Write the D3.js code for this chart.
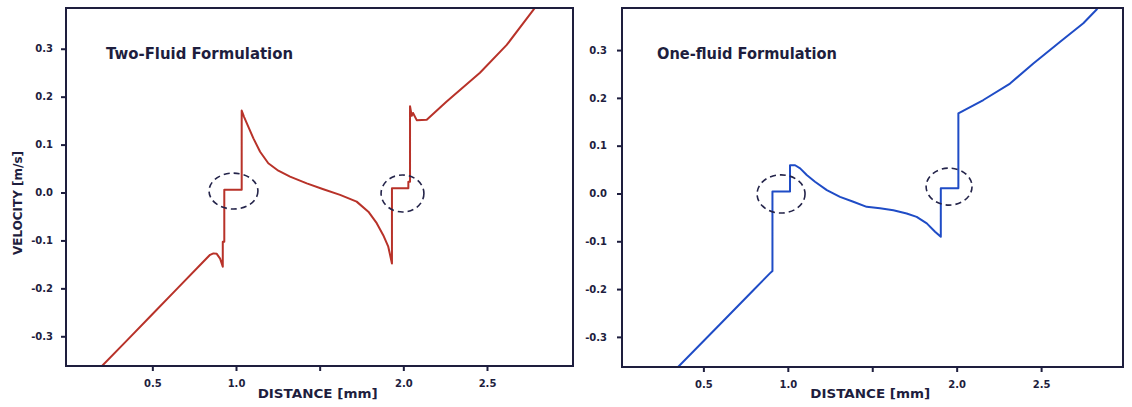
<!DOCTYPE html>
<html>
<head>
<meta charset="utf-8">
<script src="https://cdn.jsdelivr.net/npm/d3@7/dist/d3.min.js"></script>
<style>
  body { margin: 0; background: #ffffff; }
  svg { display: block; }
</style>
</head>
<body>
<svg id="chart" width="1132" height="407"></svg>
<script>
// ---- Data -----------------------------------------------------------------
// Velocity profile, two-fluid formulation: distance [mm] and velocity [m/s]
const twoFluidX = [0.199, 0.35, 0.50, 0.65, 0.80, 0.845, 0.865, 0.885, 0.905, 0.921, 0.921, 0.930, 0.930,
  1.034, 1.034, 1.048, 1.074, 1.104, 1.144, 1.193, 1.253, 1.323, 1.423, 1.522, 1.622, 1.721, 1.791,
  1.841, 1.880, 1.910, 1.932, 1.932, 2.030, 2.030, 2.040, 2.040, 2.050, 2.058, 2.080, 2.140, 2.259,
  2.458, 2.618, 2.777, 2.79];
const twoFluidV = [-0.362, -0.308, -0.254, -0.200, -0.146, -0.130, -0.127, -0.128, -0.138, -0.155, -0.103, -0.103, 0.006,
  0.006, 0.171, 0.158, 0.137, 0.113, 0.085, 0.061, 0.0455, 0.033, 0.019, 0.0067, -0.005, -0.019, -0.040,
  -0.064, -0.089, -0.113, -0.148, 0.009, 0.009, 0.0225, 0.0225, 0.180, 0.160, 0.166, 0.151, 0.152, 0.190,
  0.250, 0.308, 0.381, 0.387];

// Velocity profile, one-fluid formulation
const oneFluidX = [0.350, 0.60, 0.80, 0.895, 0.909, 0.909, 1.013, 1.013, 1.043, 1.073, 1.112, 1.161, 1.231,
  1.309, 1.388, 1.467, 1.546, 1.625, 1.704, 1.763, 1.823, 1.872, 1.906, 1.906, 2.010, 2.010, 2.158,
  2.316, 2.454, 2.613, 2.750, 2.829, 2.84];
const oneFluidV = [-0.363, -0.273, -0.201, -0.1666, -0.162, 0.004, 0.004, 0.059, 0.059, 0.0525, 0.0385, 0.0245, 0.007,
  -0.007, -0.0174, -0.028, -0.031, -0.035, -0.042, -0.049, -0.0626, -0.080, -0.0906, 0.0107, 0.0107, 0.1676, 0.1955,
  0.230, 0.272, 0.3175, 0.356, 0.385, 0.39];

// Dashed ellipses marking the interface plateaus (centre and radii in data units)
const twoFluidRingX = [0.985, 1.995];
const twoFluidRingV = [0.003, -0.002];
const twoFluidRingRx = [0.146, 0.128];
const twoFluidRingRv = [0.0375, 0.0386];
const oneFluidRingX = [0.960, 1.955];
const oneFluidRingV = [-0.001, 0.0144];
const oneFluidRingRx = [0.142, 0.136];
const oneFluidRingRv = [0.040, 0.0387];

// Axis ticks and labels
const xTickValues = [0.5, 1.0, 1.5, 2.0, 2.5];
const xTickLabels = ["0.5", "1.0", "", "2.0", "2.5"];
const yTickValues = [-0.3, -0.2, -0.1, 0.0, 0.1, 0.2, 0.3];
const yTickLabels = ["-0.3", "-0.2", "-0.1", "0.0", "0.1", "0.2", "0.3"];

const titles = ["Two-Fluid Formulation", "One-fluid Formulation"];
const xAxisTitle = "DISTANCE [mm]";
const yAxisTitle = "VELOCITY [m/s]";

// ---- Layout -----------------------------------------------------------------
const INK = "#1e1e3e";
const FONT = "'DejaVu Sans', Verdana, sans-serif";

const panels = [
  {
    id: "two", left: 66, right: 573, top: 8, bottom: 366,
    xDomain: [-0.016, 3.014], yDomain: [-0.362, 0.385],
    xs: twoFluidX, vs: twoFluidV, color: "#b83229",
    rings: { x: twoFluidRingX, v: twoFluidRingV, rx: twoFluidRingRx, rv: twoFluidRingRv },
    title: titles[0], titleX: 106, titleW: 187, yPad: 8, showYTitle: true
  },
  {
    id: "one", left: 622, right: 1123, top: 8, bottom: 367,
    xDomain: [0.018, 2.985], yDomain: [-0.363, 0.388],
    xs: oneFluidX, vs: oneFluidV, color: "#1f4cc6",
    rings: { x: oneFluidRingX, v: oneFluidRingV, rx: oneFluidRingRx, rv: oneFluidRingRv },
    title: titles[1], titleX: 657, titleW: 180, yPad: 10, showYTitle: false
  }
];

const svg = d3.select("#chart");
svg.append("rect").attr("width", 1132).attr("height", 407).attr("fill", "#ffffff");

panels.forEach(p => {
  const x = d3.scaleLinear().domain(p.xDomain).range([p.left, p.right]);
  const y = d3.scaleLinear().domain(p.yDomain).range([p.bottom, p.top]);
  const g = svg.append("g").attr("class", "panel-" + p.id);

  // clip region for the curve
  svg.append("defs").append("clipPath").attr("id", "clip-" + p.id)
    .append("rect")
    .attr("x", p.left).attr("y", p.top)
    .attr("width", p.right - p.left).attr("height", p.bottom - p.top);

  // velocity curve
  const pts = p.xs.map((d, i) => [d, p.vs[i]]);
  const line = d3.line().x(d => x(d[0])).y(d => y(d[1]));
  g.append("path")
    .datum(pts)
    .attr("clip-path", "url(#clip-" + p.id + ")")
    .attr("d", line)
    .attr("fill", "none")
    .attr("stroke", p.color)
    .attr("stroke-width", 2)
    .attr("stroke-linejoin", "round");

  // dashed rings
  p.rings.x.forEach((cx, i) => {
    g.append("ellipse")
      .attr("cx", x(cx))
      .attr("cy", y(p.rings.v[i]))
      .attr("rx", x(cx + p.rings.rx[i]) - x(cx))
      .attr("ry", y(p.rings.v[i] - p.rings.rv[i]) - y(p.rings.v[i]))
      .attr("fill", "none")
      .attr("stroke", "#24244a")
      .attr("stroke-width", 1.6)
      .attr("stroke-dasharray", "6,4");
  });

  // frame (top and right edges)
  g.append("path")
    .attr("d", `M${p.left},${p.top}H${p.right}V${p.bottom}`)
    .attr("fill", "none")
    .attr("stroke", INK)
    .attr("stroke-width", 2);

  // axes
  const xAxis = d3.axisBottom(x)
    .tickValues(xTickValues)
    .tickFormat((d, i) => xTickLabels[i])
    .tickSize(5).tickSizeOuter(0).tickPadding(9);
  const yAxis = d3.axisLeft(y)
    .tickValues(yTickValues)
    .tickFormat((d, i) => yTickLabels[i])
    .tickSize(5).tickSizeOuter(0).tickPadding(p.yPad);

  const gx = g.append("g").attr("transform", `translate(0,${p.bottom})`).call(xAxis);
  const gy = g.append("g").attr("transform", `translate(${p.left},0)`).call(yAxis);
  [gx, gy].forEach(a => {
    a.select(".domain").attr("stroke", INK).attr("stroke-width", 2);
    a.selectAll(".tick line").attr("stroke", INK).attr("stroke-width", 2);
    a.selectAll(".tick text")
      .attr("fill", INK)
      .style("font-family", FONT)
      .style("font-size", "10px")
      .style("font-weight", "bold");
  });
  gx.select(".domain").attr("d", `M${p.left - 1},0H${p.right + 1}`);
  gy.select(".domain").attr("d", `M0,${p.top - 1}V${p.bottom + 1}`);

  // panel title
  g.append("text")
    .attr("x", p.titleX).attr("y", 59)
    .attr("textLength", p.titleW).attr("lengthAdjust", "spacingAndGlyphs")
    .attr("fill", INK)
    .style("font-family", FONT).style("font-size", "15px").style("font-weight", "bold")
    .text(p.title);

  // x-axis title sits in place of the 1.5 label
  g.append("text")
    .attr("x", x(1.5) - 2).attr("y", 398)
    .attr("text-anchor", "middle")
    .attr("textLength", 120).attr("lengthAdjust", "spacingAndGlyphs")
    .attr("fill", INK)
    .style("font-family", FONT).style("font-size", "13px").style("font-weight", "bold")
    .text(xAxisTitle);

  if (p.showYTitle) {
    g.append("text")
      .attr("transform", `translate(22,${(p.top + p.bottom) / 2 + 16}) rotate(-90)`)
      .attr("text-anchor", "middle")
      .attr("textLength", 104).attr("lengthAdjust", "spacingAndGlyphs")
      .attr("fill", INK)
      .style("font-family", FONT).style("font-size", "12px").style("font-weight", "bold")
      .text(yAxisTitle);
  }
});
</script>
</body>
</html>
